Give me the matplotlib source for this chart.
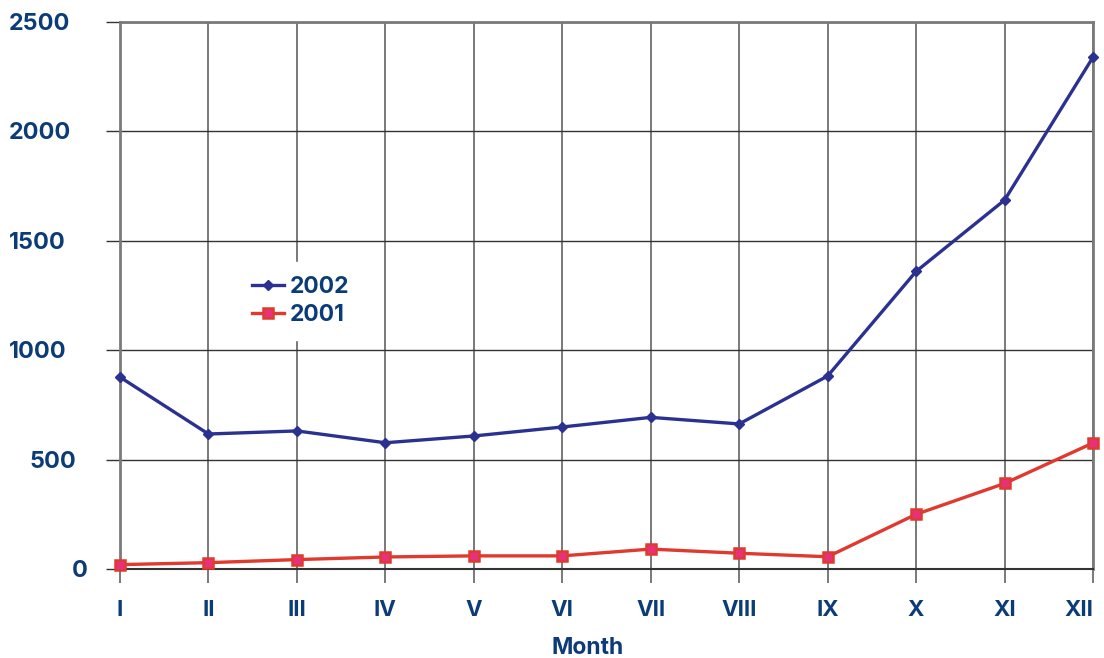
import matplotlib
matplotlib.use("Agg")
import matplotlib.pyplot as plt
from matplotlib.transforms import blended_transform_factory, offset_copy

months = ["I", "II", "III", "IV", "V", "VI", "VII", "VIII", "IX", "X", "XI", "XII"]
values_2002 = [877, 617, 631, 577, 608, 649, 693, 663, 882, 1360, 1686, 2339]
values_2001 = [20, 29, 43, 55, 60, 60, 91, 72, 56, 250, 391, 576]
yticks = [0, 500, 1000, 1500, 2000, 2500]
# horizontal centres (figure pixels) of the y tick labels, as placed in the reference
ylabel_centres_px = [80, 53, 38, 37, 40, 39]

TXT = "#0c3c78"
FONT = ['Inter', 'Liberation Sans', 'DejaVu Sans']
plt.rcParams['font.family'] = FONT
plt.rcParams['font.weight'] = 'bold'

W, H = 1104, 658
fig = plt.figure(figsize=(W / 100, H / 100), dpi=100)
ax = fig.add_axes([120 / W, 1 - 569 / H, (1093 - 120) / W, (569 - 22) / H])

x = list(range(len(months)))
ax.plot(x, values_2002, color="#2b3190", lw=2.4, marker="D", ms=5,
        mfc="#2b3190", mec="#2b3190", label="2002", zorder=5, clip_on=False)
ax.plot(x, values_2001, color="#e0392e", lw=2.4, marker="s", ms=7,
        mfc="#e8317d", mec="#e0392e", mew=1.8, label="2001", zorder=5, clip_on=False)

ax.set_xlim(0, 11)
ax.set_ylim(0, 2500)
ax.set_xticks(x)
ax.set_xticklabels(months)
ax.set_yticks(yticks)
ax.set_yticklabels([])

ax.grid(True, axis='y', color="#333333", lw=1.0, zorder=1)
ax.grid(True, axis='x', color="#555555", lw=1.1, zorder=1)

for side in ['left', 'top', 'right']:
    ax.spines[side].set_color("#7a7a7a")
    ax.spines[side].set_linewidth(2.0)
ax.spines['bottom'].set_color("#333333")
ax.spines['bottom'].set_linewidth(1.5)

ax.tick_params(axis='x', length=10, width=1.1, color="#555555", pad=12,
               labelsize=16, labelcolor=TXT)
ax.tick_params(axis='y', length=10, width=1.0, color="#333333")
xt = ax.get_xticklabels()
for lab in xt:
    lab.set_fontweight('bold')
xt[-1].set_horizontalalignment('right')

trans = offset_copy(blended_transform_factory(fig.transFigure, ax.transData),
                    fig=fig, x=0, y=-2, units='dots')
for v, cx in zip(yticks, ylabel_centres_px):
    ax.text(cx / W, v, str(v), transform=trans, ha='center', va='center',
            fontsize=16.8, fontweight='bold', color=TXT, clip_on=False)

ax.set_xlabel("Month", fontsize=16.5, fontweight='bold', color=TXT, labelpad=15)
ax.xaxis.set_label_coords((588 - 120) / (1093 - 120), -(648 - 569) / (569 - 22))
ax.xaxis.label.set_verticalalignment('center')

leg = ax.legend(loc='center left', bbox_to_anchor=(0.11, 0.49), frameon=True,
                fancybox=False, fontsize=16.5, handlelength=1.4, labelspacing=0.25,
                handletextpad=0.25, borderpad=0.6)
leg.get_frame().set_facecolor("white")
leg.get_frame().set_edgecolor("white")
leg.get_frame().set_alpha(1)
leg.set_zorder(10)
for t in leg.get_texts():
    t.set_color(TXT)
    t.set_fontweight('bold')

fig.savefig("out.png", dpi=100)
